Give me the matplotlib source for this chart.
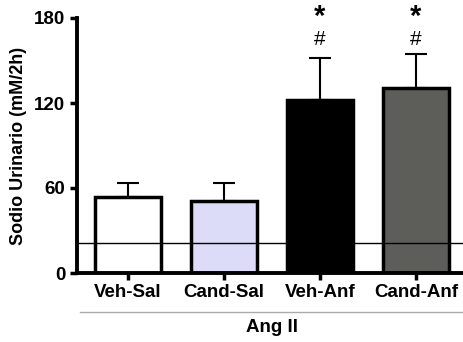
import matplotlib
matplotlib.use('Agg')
import matplotlib.pyplot as plt

groups = ['Veh-Sal', 'Cand-Sal', 'Veh-Anf', 'Cand-Anf']
means = [53.5, 51, 122, 130.5]
sem = [10, 12.5, 30, 24]
colors = ['#ffffff', '#dcdcf8', '#000000', '#5d5e5a']
signif = [False, False, True, True]
baseline = 21

plt.rcParams['font.family'] = ['Liberation Sans', 'DejaVu Sans']
plt.rcParams['font.weight'] = 'bold'

fig = plt.figure(figsize=(4.64, 3.42), dpi=100)
ax = fig.add_axes([77 / 464, 1 - 273 / 342, 387 / 464, 255 / 342])

x = range(len(groups))
ax.bar(x, means, width=0.68, color=colors, edgecolor='black', linewidth=2.5, zorder=2)
ax.errorbar(x, means, yerr=[[0] * 4, sem], fmt='none', ecolor='black',
            elinewidth=1.5, capsize=8, capthick=1.5, zorder=1)
ax.axhline(baseline, color='black', linewidth=1, zorder=3)

# * vs Veh-Sal, # vs Cand-Sal
for i, s in enumerate(signif):
    if s:
        ax.text(i, 164.5, '#', ha='center', va='center', fontsize=15, fontweight='normal')
        ax.text(i, 181, '*', ha='center', va='center', fontsize=21, clip_on=False)

ax.set_xlim(-0.53, 3.5)
ax.set_ylim(0, 180)
ax.set_yticks([0, 60, 120, 180])
ax.set_xticks(list(x))
ax.set_xticklabels(groups)
ax.tick_params(axis='both', width=2.5, length=5, labelsize=13.5)
ax.tick_params(axis='x', pad=3)
for side in ['top', 'right']:
    ax.spines[side].set_visible(False)
for side in ['left', 'bottom']:
    ax.spines[side].set_linewidth(2.8)
ax.set_ylabel('Sodio Urinario (mM/2h)', fontsize=13, fontweight='bold', labelpad=5)

# group bracket under the tick labels
fig.add_artist(plt.Line2D([80 / 464, 1.0], [1 - 312 / 342] * 2, color='#aaaaaa', linewidth=1))
fig.text(0.5 * (80 + 464) / 464, 1 - 327 / 342, 'Ang II', ha='center', va='center',
         fontsize=13.5, fontweight='bold')

fig.savefig('out.png', dpi=100)
